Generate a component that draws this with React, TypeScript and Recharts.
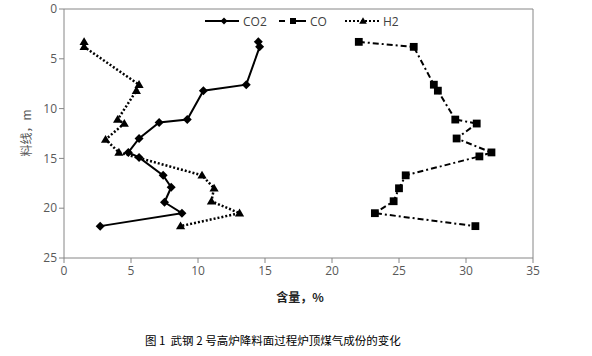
import {
  ScatterChart,
  Scatter,
  XAxis,
  YAxis,
  ReferenceLine,
} from "recharts";

// 含量 (%) and 料线 (m), in plotted order
const co2Content = [14.5, 14.6, 13.6, 10.4, 9.2, 7.1, 5.6, 4.8, 5.6, 7.4, 8.0, 7.5, 8.8, 2.7];
const co2Depth = [3.3, 3.8, 7.6, 8.2, 11.1, 11.4, 13.0, 14.4, 14.9, 16.7, 17.9, 19.4, 20.5, 21.8];

const coContent = [22.0, 26.1, 27.6, 27.9, 29.2, 30.8, 29.3, 31.9, 31.0, 25.5, 25.0, 24.6, 23.2, 30.7];
const coDepth = [3.3, 3.8, 7.6, 8.2, 11.1, 11.5, 13.0, 14.4, 14.8, 16.7, 18.0, 19.3, 20.5, 21.8];

const h2Content = [1.5, 1.5, 5.6, 5.4, 4.0, 4.5, 3.1, 4.1, 10.3, 11.2, 11.0, 13.1, 8.7];
const h2Depth = [3.3, 3.8, 7.6, 8.2, 11.1, 11.5, 13.1, 14.4, 16.7, 18.0, 19.3, 20.5, 21.8];

const xTicks = [0, 5, 10, 15, 20, 25, 30, 35];
const yTicks = [0, 5, 10, 15, 20, 25];

const toPoints = (xs: number[], ys: number[]) =>
  xs.map((x, i) => ({ x, y: ys[i] }));

const co2Data = toPoints(co2Content, co2Depth);
const coData = toPoints(coContent, coDepth);
const h2Data = toPoints(h2Content, h2Depth);

const AXIS = "#868686";
const TEXT = "#595959";
const FONT = "'Open Sans', sans-serif";

const Diamond = ({ cx, cy, r = 4.5 }: any) => (
  <path d={`M${cx},${cy - r}L${cx + r},${cy}L${cx},${cy + r}L${cx - r},${cy}Z`} fill="#000" />
);
const Square = ({ cx, cy, r = 3.9 }: any) => (
  <rect x={cx - r} y={cy - r} width={2 * r} height={2 * r} fill="#000" />
);
const Triangle = ({ cx, cy, r = 4.6 }: any) => (
  <path d={`M${cx},${cy - r}L${cx + r},${cy + r * 0.7}L${cx - r},${cy + r * 0.7}Z`} fill="#000" />
);

function LegendItem({ left, label, dash, width, marker }: any) {
  return (
    <div
      style={{
        position: "absolute",
        left,
        top: 13,
        height: 16,
        display: "flex",
        alignItems: "center",
        whiteSpace: "nowrap",
      }}
    >
      <svg width={width} height={12} style={{ marginRight: 4 }}>
        <line x1={0} y1={6} x2={width} y2={6} stroke="#000" strokeWidth={2} strokeDasharray={dash} />
        {marker}
      </svg>
      <span>{label}</span>
    </div>
  );
}

function LegendRow() {
  return (
    <div style={{ fontFamily: FONT, fontSize: 12, color: "#404040" }}>
      <LegendItem left={205} width={34} label="CO2" marker={<Diamond cx={19} cy={6} r={3.5} />} />
      <LegendItem left={279} width={27} label="CO" dash="6 7 14 7" marker={<Square cx={14} cy={6} r={3} />} />
      <LegendItem left={345} width={34} label="H2" dash="2 2" marker={<Triangle cx={18} cy={6} r={3.8} />} />
    </div>
  );
}

export default function App() {
  return (
    <div
      style={{
        position: "absolute",
        left: 0,
        top: 0,
        width: 592,
        height: 356,
        background: "#fff",
      }}
    >
      <ScatterChart width={592} height={300} margin={{ top: 9, right: 59, left: 0, bottom: 12 }}>
        <XAxis
          type="number"
          dataKey="x"
          domain={[0, 35]}
          ticks={xTicks}
          stroke={AXIS}
          tick={{ fill: TEXT, fontSize: 12, fontFamily: FONT }}
          tickSize={5}
          tickMargin={3}
          height={30}
        />
        <YAxis
          type="number"
          dataKey="y"
          domain={[0, 25]}
          ticks={yTicks}
          reversed
          stroke={AXIS}
          tick={{ fill: TEXT, fontSize: 12, fontFamily: FONT }}
          tickSize={5}
          width={64}
        />
        <ReferenceLine y={0} stroke={AXIS} />
        <ReferenceLine x={35} stroke={AXIS} />
        <Scatter
          data={co2Data}
          fill="#000"
          line={{ stroke: "#000", strokeWidth: 2 }}
          shape={(p: any) => <Diamond cx={p.cx} cy={p.cy} />}
          isAnimationActive={false}
        />
        <Scatter
          data={coData}
          fill="#000"
          line={{ stroke: "#000", strokeWidth: 2, strokeDasharray: "6 3 2 3" }}
          shape={(p: any) => <Square cx={p.cx} cy={p.cy} />}
          isAnimationActive={false}
        />
        <Scatter
          data={h2Data}
          fill="#000"
          line={{ stroke: "#000", strokeWidth: 2.5, strokeDasharray: "2 2" }}
          shape={(p: any) => <Triangle cx={p.cx} cy={p.cy} />}
          isAnimationActive={false}
        />
      </ScatterChart>
      <LegendRow />
      <div
        style={{
          position: "absolute",
          left: 25,
          top: 133,
          transform: "translate(-50%, -50%) rotate(-90deg)",
          fontFamily: "'Noto Sans CJK SC', sans-serif",
          fontSize: 12,
          color: TEXT,
          whiteSpace: "nowrap",
        }}
      >
        料线，m
      </div>
      <div
        style={{
          position: "absolute",
          left: 300,
          top: 296,
          transform: "translate(-50%, -50%)",
          fontFamily: "'Noto Sans CJK SC', sans-serif",
          fontWeight: "bold",
          fontSize: 12,
          color: "#222",
          whiteSpace: "nowrap",
        }}
      >
        含量，%
      </div>
      <div
        style={{
          position: "absolute",
          left: 145,
          top: 340,
          transform: "translateY(-50%)",
          fontFamily: "'Noto Sans CJK SC', sans-serif",
          fontSize: 11.5,
          color: "#000",
          whiteSpace: "pre",
        }}
      >
        图 1  武钢 2 号高炉降料面过程炉顶煤气成份的变化
      </div>
    </div>
  );
}
